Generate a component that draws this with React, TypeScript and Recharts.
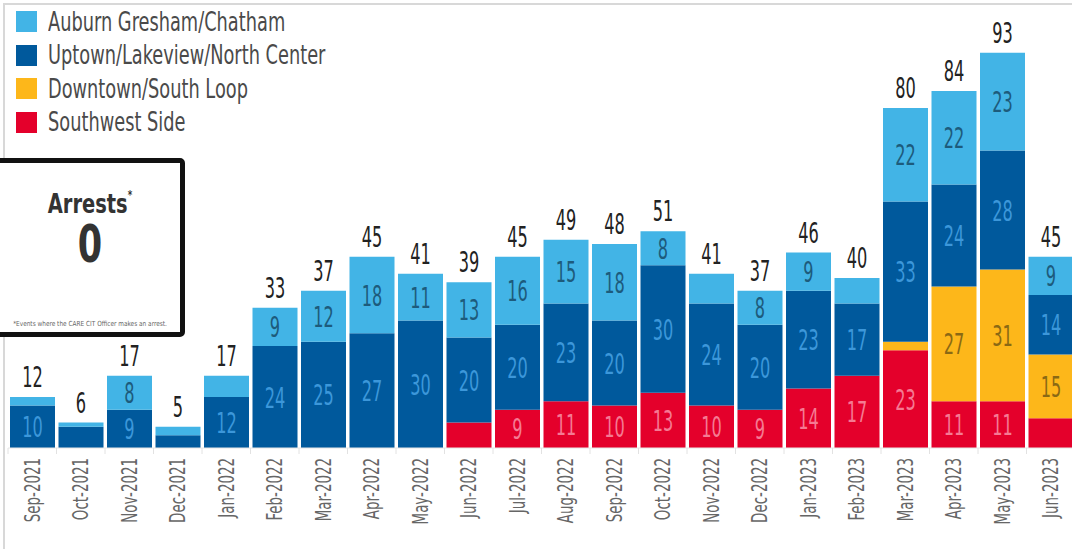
import React from "react";
import { BarChart, Bar, XAxis, YAxis, LabelList } from "recharts";

const months = [
  "Sep-2021", "Oct-2021", "Nov-2021", "Dec-2021", "Jan-2022", "Feb-2022", "Mar-2022", "Apr-2022",
  "May-2022", "Jun-2022", "Jul-2022", "Aug-2022", "Sep-2022", "Oct-2022", "Nov-2022", "Dec-2022",
  "Jan-2023", "Feb-2023", "Mar-2023", "Apr-2023", "May-2023", "Jun-2023",
];
const southwest = [0, 0, 0, 0, 0, 0, 0, 0, 0, 6, 9, 11, 10, 13, 10, 9, 14, 17, 23, 11, 11, 7];
const downtown = [0, 0, 0, 0, 0, 0, 0, 0, 0, 0, 0, 0, 0, 0, 0, 0, 0, 0, 2, 27, 31, 15];
const uptown = [10, 5, 9, 3, 12, 24, 25, 27, 30, 20, 20, 23, 20, 30, 24, 20, 23, 17, 33, 24, 28, 14];
const auburn = [2, 1, 8, 2, 5, 9, 12, 18, 11, 13, 16, 15, 18, 8, 7, 8, 9, 6, 22, 22, 23, 9];

const seriesNames = [
  "Auburn Gresham/Chatham",
  "Uptown/Lakeview/North Center",
  "Downtown/South Loop",
  "Southwest Side",
];
const seriesColors = ["#42B4E6", "#00599C", "#FDB71A", "#E4002B"];
const labelColors = ["#1D5B7C", "#3C97DA", "#8A6914", "#F57A93"];

const data = months.map((m, i) => ({
  month: m,
  southwest: southwest[i],
  downtown: downtown[i],
  uptown: uptown[i],
  auburn: auburn[i],
  total: southwest[i] + downtown[i] + uptown[i] + auburn[i],
}));

const FONT = "'DejaVu Sans Condensed', 'DejaVu Sans', sans-serif";

const segLabel = (color: string) => (props: any) => {
  const { x, y, width, height, value } = props;
  if (value == null || value < 8) return null;
  const cx = Number(x) + Number(width) / 2;
  const cy = Number(y) + Number(height) / 2 + 10.5;
  return (
    <text
      transform={`translate(${cx},${cy}) scale(0.62,1)`}
      textAnchor="middle"
      fontSize={29}
      fontFamily={FONT}
      fill={color}
    >
      {value}
    </text>
  );
};

const totalLabel = (props: any) => {
  const { x, y, width, value } = props;
  const cx = Number(x) + Number(width) / 2;
  const cy = Number(y) - 10;
  return (
    <text
      transform={`translate(${cx},${cy}) scale(0.62,1)`}
      textAnchor="middle"
      fontSize={29}
      fontFamily={FONT}
      fill="#222"
    >
      {value}
    </text>
  );
};

const XTick = (props: any) => {
  const { x, payload } = props;
  return (
    <g>
      <line x1={x - 24.25} x2={x - 24.25} y1={448} y2={454} stroke="#e2e2e2" strokeWidth={1} />
      <text
        transform={`translate(${x + 7.5},${458}) rotate(-90) scale(0.71,1)`}
        textAnchor="end"
        fontSize={21}
        fontFamily={FONT}
        fill="#666"
      >
        {payload.value}
      </text>
    </g>
  );
};

export default function App() {
  return (
    <div
      style={{
        position: "absolute",
        left: 0,
        top: 0,
        width: 1072,
        height: 549,
        overflow: "hidden",
        background: "#fff",
        fontFamily: FONT,
      }}
    >
      <div
        style={{
          position: "absolute",
          left: 3,
          top: 3,
          width: 2000,
          height: 2000,
          borderLeft: "2px solid #d8d8d8",
          borderTop: "2px solid #d8d8d8",
        }}
      />
      <div style={{ position: "absolute", left: 0, top: 0 }}>
        <BarChart
          width={1080}
          height={549}
          data={data}
          margin={{ top: 23, right: 5, left: 8, bottom: 0 }}
        >
          <XAxis
            dataKey="month"
            interval={0}
            height={101}
            tickLine={false}
            axisLine={{ stroke: "#e6e6e6" }}
            tick={<XTick />}
          />
          <YAxis hide domain={[0, 100]} />
          <Bar dataKey="southwest" stackId="a" fill={seriesColors[3]} barSize={45} isAnimationActive={false}>
            <LabelList dataKey="southwest" content={segLabel(labelColors[3])} />
          </Bar>
          <Bar dataKey="downtown" stackId="a" fill={seriesColors[2]} barSize={45} isAnimationActive={false}>
            <LabelList dataKey="downtown" content={segLabel(labelColors[2])} />
          </Bar>
          <Bar dataKey="uptown" stackId="a" fill={seriesColors[1]} barSize={45} isAnimationActive={false}>
            <LabelList dataKey="uptown" content={segLabel(labelColors[1])} />
          </Bar>
          <Bar dataKey="auburn" stackId="a" fill={seriesColors[0]} barSize={45} isAnimationActive={false}>
            <LabelList dataKey="auburn" content={segLabel(labelColors[0])} />
            <LabelList dataKey="total" content={totalLabel} />
          </Bar>
        </BarChart>
      </div>

      <div style={{ position: "absolute", left: 16, top: 5 }}>
        {seriesNames.map((n, i) => (
          <div key={n} style={{ display: "flex", alignItems: "center", height: 33.5 }}>
            <div style={{ width: 21, height: 21, background: seriesColors[i], marginRight: 11, flex: "none" }} />
            <span
              style={{
                fontSize: 26,
                color: "#4a4a4a",
                display: "inline-block",
                transform: "scaleX(0.76)",
                transformOrigin: "left center",
                whiteSpace: "nowrap",
                lineHeight: 1,
              }}
            >
              {n}
            </span>
          </div>
        ))}
      </div>

      <div
        style={{
          position: "absolute",
          left: -5,
          top: 158,
          width: 190,
          height: 179,
          boxSizing: "border-box",
          border: "5px solid #111",
          borderRadius: 5,
          background: "#fff",
          textAlign: "center",
          color: "#333",
        }}
      >
        <div style={{ position: "absolute", left: 0, right: 0, top: 27, fontSize: 27, fontWeight: 700, lineHeight: 1, transform: "scaleX(0.8)" }}>
          Arrests<span style={{ fontSize: 12, verticalAlign: "top", position: "relative", top: -1 }}>*</span>
        </div>
        <div style={{ position: "absolute", left: 0, right: 0, top: 55, fontSize: 52, fontWeight: 700, lineHeight: 1, transform: "scaleX(0.75)" }}>
          0
        </div>
        <div style={{ position: "absolute", left: 0, right: 0, top: 158, fontSize: 7, color: "#666", lineHeight: 1, transform: "scaleX(0.92)" }}>
          *Events where the CARE CIT Officer makes an arrest.
        </div>
      </div>
    </div>
  );
}
